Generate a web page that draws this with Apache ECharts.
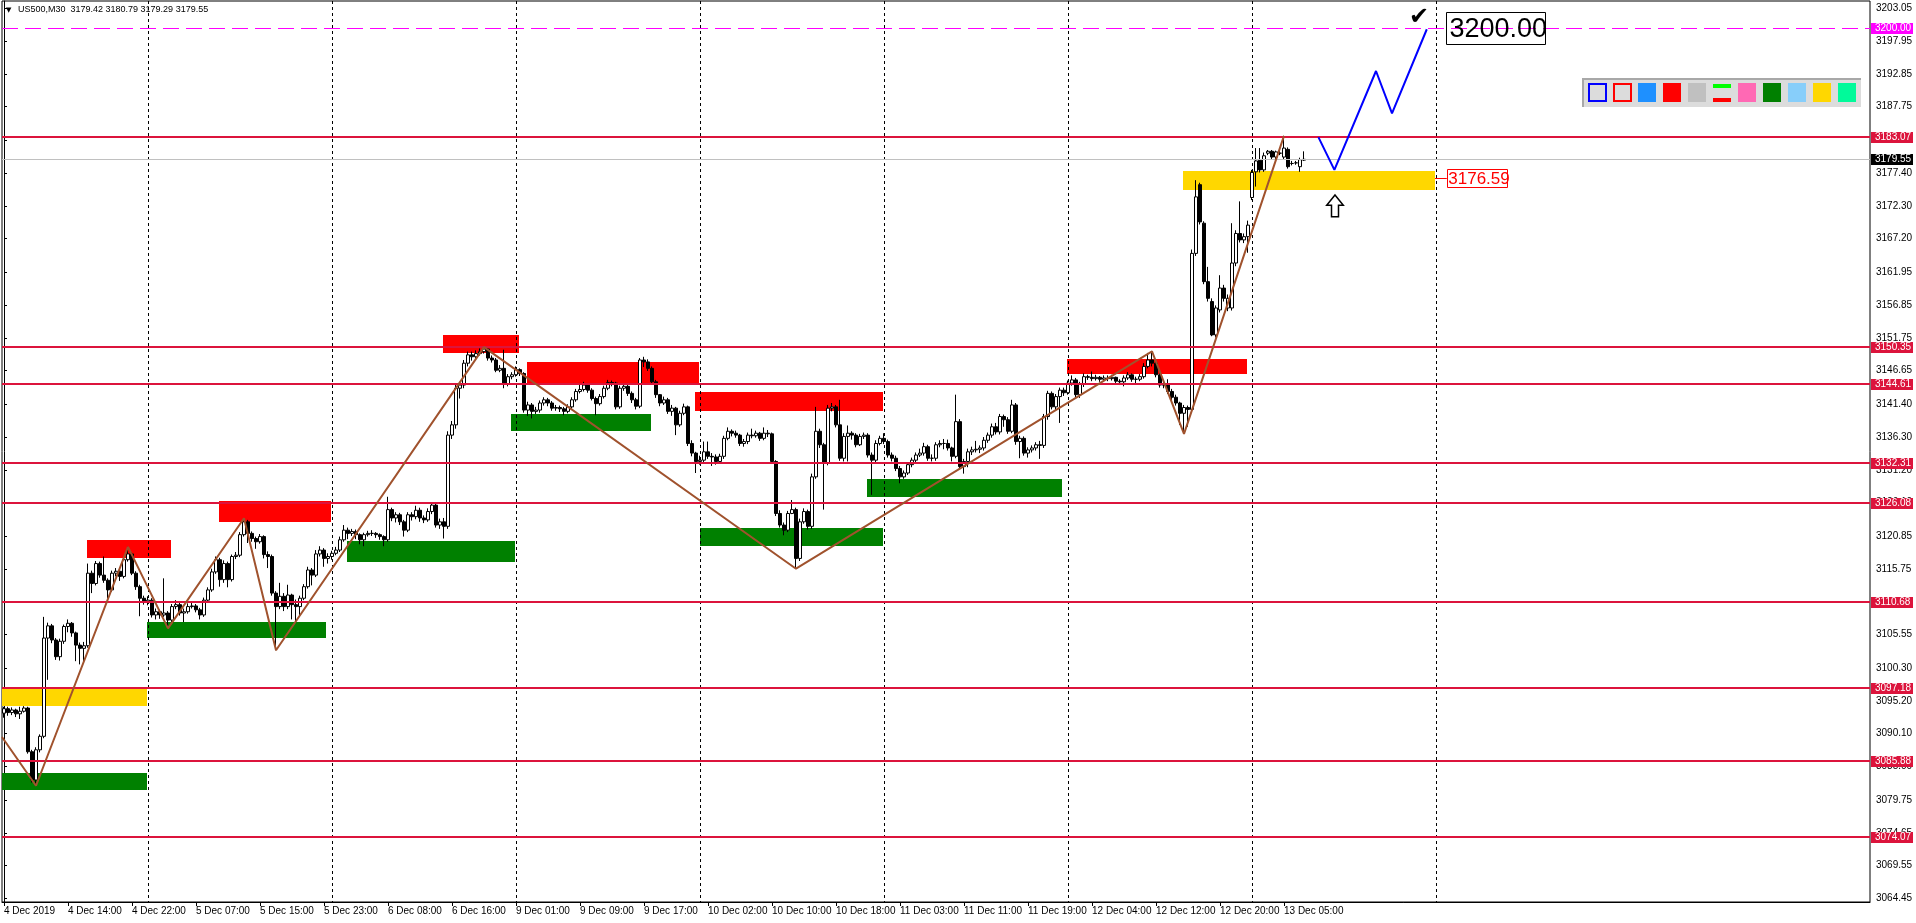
<!DOCTYPE html>
<html><head><meta charset="utf-8">
<script src="https://cdn.jsdelivr.net/npm/echarts@6/dist/echarts.min.js"></script>
<style>html,body{margin:0;padding:0;background:#fff;}#c{width:1916px;height:923px;}</style>
</head><body><div id="c"></div>
<script>
// ---------------- DATA ----------------
const symbol = 'US500,M30';
const totalSlots = 467;          // bar slots visible across the chart (incl. empty future)
const labelEvery = 16;           // one time label every 16 bars
const timeLabels = ['4 Dec 2019','4 Dec 14:00','4 Dec 22:00','5 Dec 07:00','5 Dec 15:00','5 Dec 23:00','6 Dec 08:00','6 Dec 16:00','9 Dec 01:00','9 Dec 09:00','9 Dec 17:00','10 Dec 02:00','10 Dec 10:00','10 Dec 18:00','11 Dec 03:00','11 Dec 11:00','11 Dec 19:00','12 Dec 04:00','12 Dec 12:00','12 Dec 20:00','13 Dec 05:00'];
const priceTicks = [3203.05,3197.95,3192.85,3187.75,3182.50,3177.40,3172.30,3167.20,3161.95,3156.85,3151.75,3146.65,3141.40,3136.30,3131.20,3126.10,3120.85,3115.75,3110.65,3105.55,3100.30,3095.20,3090.10,3085.00,3079.75,3074.65,3069.55,3064.45];
const priceMin = 3063.9, priceMax = 3204.2;

const opens = [
3093.3,3094.0,3093.4,3093.8,3093.2,3093.6,3094.1,3087.3,3082.9,3087.6,
3089.7,3105.0,3106.9,3104.7,3102.1,3104.5,3106.8,3107.3,3105.8,3103.9,
3103.4,3103.8,3115.1,3113.5,3116.6,3114.8,3114.0,3112.5,3115.1,3115.4,
3114.6,3117.2,3118.1,3115.1,3113.0,3111.2,3110.7,3110.9,3108.6,3109.1,
3108.6,3108.9,3107.8,3109.9,3110.2,3108.9,3109.1,3109.9,3110.0,3109.4,
3108.6,3110.9,3112.5,3115.3,3117.2,3114.1,3116.6,3114.1,3117.7,3117.9,
3121.1,3123.1,3121.3,3120.5,3120.0,3120.8,3118.0,3117.7,3112.0,3109.9,
3111.5,3109.9,3111.7,3110.2,3109.9,3111.2,3113.0,3115.6,3114.8,3118.1,
3118.7,3117.4,3117.7,3118.2,3118.7,3120.3,3121.8,3121.3,3121.6,3121.1,
3120.3,3121.1,3121.3,3121.3,3121.1,3120.8,3120.3,3125.0,3123.7,3124.2,
3123.1,3121.8,3124.2,3123.9,3124.9,3123.7,3123.4,3124.7,3125.7,3122.6,
3123.1,3122.4,3136.6,3138.2,3143.9,3144.4,3147.8,3149.1,3148.8,3149.3,
3149.6,3150.0,3148.6,3148.3,3146.7,3147.0,3144.5,3145.7,3146.0,3146.8,
3146.2,3140.5,3141.3,3140.3,3140.5,3141.6,3142.1,3141.6,3140.8,3140.9,
3140.7,3140.3,3141.0,3142.1,3143.4,3143.7,3144.4,3143.6,3142.3,3141.5,
3142.6,3143.9,3144.8,3144.7,3141.0,3143.9,3144.2,3143.1,3142.1,3141.1,
3148.3,3148.0,3147.0,3144.9,3142.9,3141.6,3142.1,3140.3,3140.8,3138.2,
3140.0,3141.0,3135.3,3133.8,3132.5,3132.7,3134.0,3133.3,3133.2,3132.5,
3133.3,3136.1,3137.2,3136.9,3136.6,3135.3,3135.6,3136.6,3136.5,3136.9,
3136.1,3136.9,3136.8,3132.5,3124.4,3122.6,3121.8,3124.4,3125.0,3117.4,
3123.1,3124.7,3122.4,3130.1,3137.2,3135.1,3132.2,3140.8,3141.0,3138.2,
3133.0,3136.4,3136.9,3136.6,3135.1,3136.4,3136.6,3133.5,3132.7,3135.3,
3136.1,3135.6,3133.5,3133.0,3131.4,3130.1,3130.7,3132.0,3132.7,3133.5,
3133.8,3134.8,3133.0,3133.0,3135.1,3135.3,3135.3,3134.6,3133.3,3138.7,
3131.7,3132.5,3134.0,3134.3,3134.4,3134.6,3135.8,3136.6,3137.9,3137.1,
3139.5,3139.0,3137.2,3141.3,3135.6,3136.1,3133.8,3134.3,3134.6,3135.1,
3135.0,3139.5,3143.1,3141.0,3142.6,3143.6,3143.2,3144.7,3145.2,3142.9,
3144.5,3145.7,3145.6,3145.4,3145.6,3145.3,3145.5,3145.4,3145.6,3145.0,
3144.9,3145.5,3146.0,3145.3,3145.3,3145.7,3147.3,3148.3,3147.8,3146.0,
3144.4,3144.4,3143.4,3142.5,3141.6,3140.0,3140.9,3140.6,3164.9,3175.6,
3169.6,3160.5,3157.4,3152.2,3156.1,3159.5,3156.4,3156.4,3163.4,3168.0,
3167.0,3167.5,3173.6,3177.6,3179.4,3177.9,3180.5,3180.8,3179.9,3180.5,
3179.9,3181.1,3178.9,3179.0,3178.4,3179.42];
const highs = [
3094.3,3094.3,3094.2,3094.0,3094.3,3094.4,3094.3,3087.6,3088.0,3090.0,
3108.3,3107.4,3107.2,3105.0,3104.9,3107.1,3107.9,3107.5,3106.0,3104.3,
3104.4,3116.6,3115.5,3117.0,3116.9,3117.7,3114.3,3115.5,3115.9,3115.7,
3117.6,3119.2,3118.4,3115.4,3113.3,3111.6,3111.5,3111.2,3109.6,3109.4,
3114.3,3109.2,3110.3,3110.9,3110.5,3109.6,3110.4,3110.5,3110.3,3109.7,
3111.3,3112.9,3115.8,3117.7,3117.5,3117.1,3116.9,3118.0,3118.4,3121.5,
3123.65,3123.4,3121.6,3120.8,3121.2,3121.0,3118.5,3118.0,3112.3,3113.6,
3112.0,3113.3,3111.9,3111.0,3111.6,3113.4,3116.1,3115.9,3118.7,3119.3,
3119.0,3118.2,3118.6,3119.2,3120.8,3122.6,3122.2,3122.0,3121.9,3121.3,
3121.4,3121.7,3121.8,3121.5,3121.3,3121.0,3127.0,3125.3,3124.6,3124.5,
3123.4,3124.6,3124.6,3125.6,3125.3,3124.1,3125.2,3126.1,3126.0,3123.6,
3123.7,3137.2,3138.8,3144.4,3144.9,3148.3,3149.6,3149.6,3149.8,3150.1,
3150.3,3150.2,3149.0,3148.6,3147.5,3149.9,3146.1,3146.4,3147.3,3147.0,
3146.4,3141.8,3141.6,3141.0,3142.0,3142.5,3142.4,3141.9,3141.3,3141.2,
3141.0,3141.4,3142.5,3143.8,3144.5,3144.9,3144.7,3143.9,3142.6,3143.0,
3144.3,3145.2,3145.1,3144.9,3144.3,3144.7,3144.4,3143.4,3142.4,3148.6,
3148.8,3148.4,3147.3,3145.2,3143.0,3142.6,3142.4,3141.3,3141.0,3140.4,
3141.5,3141.2,3135.8,3134.0,3133.4,3135.6,3135.6,3133.8,3133.6,3133.7,
3136.5,3137.8,3137.5,3137.3,3136.8,3136.0,3137.0,3137.6,3137.3,3137.1,
3137.8,3137.4,3137.0,3132.7,3124.9,3123.0,3124.8,3126.5,3125.3,3123.6,
3125.2,3125.0,3130.6,3141.0,3137.6,3135.4,3141.3,3141.6,3141.3,3142.1,
3136.9,3138.1,3137.2,3136.9,3136.8,3137.0,3136.9,3133.9,3135.8,3136.5,
3136.9,3135.9,3133.9,3133.4,3131.8,3131.1,3132.4,3133.1,3133.9,3134.5,
3135.4,3135.1,3133.6,3135.5,3135.8,3136.0,3135.9,3134.8,3142.9,3139.1,
3132.9,3134.5,3134.8,3135.7,3135.0,3136.3,3137.0,3138.4,3138.5,3139.9,
3139.8,3139.4,3142.1,3141.6,3136.5,3136.4,3134.7,3135.0,3135.5,3135.7,
3139.9,3143.5,3143.4,3143.0,3144.0,3144.0,3145.1,3145.9,3145.5,3144.9,
3146.2,3146.0,3146.5,3146.0,3145.8,3145.9,3145.9,3146.0,3145.7,3145.3,
3145.9,3146.4,3146.2,3145.7,3146.1,3147.8,3149.4,3149.65,3148.0,3146.2,
3144.9,3145.3,3143.8,3142.9,3141.8,3141.3,3141.2,3165.5,3176.3,3175.9,
3169.9,3162.8,3157.9,3156.8,3161.5,3160.0,3158.5,3169.6,3168.5,3173.0,
3168.0,3170.0,3177.9,3181.3,3181.3,3180.6,3181.0,3181.0,3180.9,3181.0,
3183.2,3181.4,3179.3,3179.3,3179.8,3180.79];
const lows = [
3092.6,3092.9,3093.0,3092.7,3092.4,3093.4,3087.0,3082.5,3082.0,3087.2,
3089.4,3098.5,3104.2,3101.6,3101.5,3104.1,3105.9,3105.2,3101.4,3100.9,
3101.1,3103.5,3112.0,3113.2,3114.4,3113.6,3111.2,3112.2,3114.6,3113.9,
3114.3,3116.9,3114.8,3112.5,3108.4,3110.2,3110.1,3108.2,3107.9,3108.0,
3108.3,3106.5,3107.5,3109.5,3108.5,3107.5,3108.8,3109.6,3109.0,3107.9,
3108.3,3110.6,3112.2,3115.0,3113.0,3113.6,3112.9,3113.8,3117.3,3117.6,
3120.8,3119.8,3120.0,3118.9,3119.7,3117.4,3115.9,3111.6,3103.1,3109.5,
3109.2,3109.5,3107.9,3107.4,3108.5,3110.9,3112.7,3113.2,3114.5,3117.7,
3116.1,3116.6,3117.2,3117.9,3118.4,3120.0,3120.4,3120.9,3120.4,3119.6,
3119.3,3120.8,3120.9,3120.6,3120.3,3119.3,3120.0,3123.2,3123.0,3122.6,
3120.8,3121.5,3123.3,3123.5,3123.1,3122.9,3123.1,3124.3,3122.2,3122.0,
3120.5,3122.0,3136.0,3137.6,3142.3,3143.9,3147.3,3148.2,3148.4,3149.0,
3149.3,3148.2,3147.9,3146.4,3146.4,3143.9,3144.2,3145.3,3145.7,3145.8,
3140.1,3139.6,3139.2,3139.9,3140.1,3141.2,3141.1,3140.4,3140.4,3140.2,
3139.7,3140.0,3140.7,3141.8,3143.1,3143.4,3143.2,3142.0,3139.7,3141.2,
3142.3,3143.6,3144.2,3140.6,3140.7,3143.5,3142.7,3141.6,3140.6,3140.8,
3147.2,3146.6,3144.5,3142.4,3141.1,3141.3,3139.9,3139.6,3136.6,3137.9,
3139.7,3134.9,3133.3,3130.7,3132.0,3132.2,3132.9,3131.8,3132.0,3132.2,
3132.9,3135.8,3136.4,3136.2,3134.9,3134.8,3135.2,3136.1,3136.2,3135.7,
3135.8,3136.3,3132.1,3124.0,3122.2,3121.0,3121.5,3124.3,3115.8,3117.0,
3122.8,3121.9,3122.0,3129.8,3134.6,3125.0,3131.9,3140.3,3137.8,3132.6,
3132.5,3132.5,3135.9,3134.7,3134.9,3136.0,3133.1,3127.3,3132.4,3135.0,
3135.2,3133.1,3132.5,3131.0,3129.1,3129.8,3130.4,3131.6,3132.4,3133.2,
3133.4,3132.6,3132.5,3132.6,3134.7,3134.4,3134.2,3132.5,3133.0,3131.3,
3130.6,3131.6,3133.5,3133.9,3133.8,3134.2,3135.4,3136.2,3136.7,3136.7,
3137.9,3136.8,3136.9,3135.1,3133.0,3133.4,3133.1,3133.9,3134.2,3132.9,
3134.6,3139.0,3140.6,3140.5,3138.5,3142.7,3142.9,3144.3,3142.5,3142.4,
3144.1,3145.2,3145.0,3145.1,3144.9,3145.0,3145.0,3145.1,3144.5,3144.4,
3144.2,3145.2,3144.9,3144.6,3145.0,3145.4,3147.0,3147.3,3145.6,3144.0,
3143.9,3143.0,3142.0,3141.2,3138.2,3136.8,3137.9,3140.2,3164.5,3169.4,
3160.1,3157.4,3152.0,3151.8,3155.7,3157.4,3155.9,3156.0,3162.9,3166.6,
3166.5,3165.0,3173.2,3175.3,3177.5,3177.6,3180.2,3179.6,3179.5,3180.2,
3179.6,3178.1,3178.6,3178.7,3177.6,3179.29];
const closes = [
3094.0,3093.4,3093.8,3093.2,3093.6,3094.1,3087.3,3082.9,3087.6,3089.7,
3105.0,3106.9,3104.7,3102.1,3104.5,3106.8,3107.3,3105.8,3103.9,3103.4,
3103.8,3115.1,3113.5,3116.6,3114.8,3114.0,3112.5,3115.1,3115.4,3114.6,
3117.2,3118.1,3115.1,3113.0,3111.2,3110.7,3110.9,3108.6,3109.1,3108.6,
3108.9,3107.8,3109.9,3110.2,3108.9,3109.1,3109.9,3110.0,3109.4,3108.6,
3110.9,3112.5,3115.3,3117.2,3114.1,3116.6,3114.1,3117.7,3117.9,3121.1,
3123.1,3121.3,3120.5,3120.0,3120.8,3118.0,3117.7,3112.0,3109.9,3111.5,
3109.9,3111.7,3110.2,3109.9,3111.2,3113.0,3115.6,3114.8,3118.1,3118.7,
3117.4,3117.7,3118.2,3118.7,3120.3,3121.8,3121.3,3121.6,3121.1,3120.3,
3121.1,3121.3,3121.3,3121.1,3120.8,3120.3,3125.0,3123.7,3124.2,3123.1,
3121.8,3124.2,3123.9,3124.9,3123.7,3123.4,3124.7,3125.7,3122.6,3123.1,
3122.4,3136.6,3138.2,3143.9,3144.4,3147.8,3149.1,3148.8,3149.3,3149.6,
3150.0,3148.6,3148.3,3146.7,3147.0,3144.5,3145.7,3146.0,3146.8,3146.2,
3140.5,3141.3,3140.3,3140.5,3141.6,3142.1,3141.6,3140.8,3140.9,3140.7,
3140.3,3141.0,3142.1,3143.4,3143.7,3144.4,3143.6,3142.3,3141.5,3142.6,
3143.9,3144.8,3144.7,3141.0,3143.9,3144.2,3143.1,3142.1,3141.1,3148.3,
3148.0,3147.0,3144.9,3142.9,3141.6,3142.1,3140.3,3140.8,3138.2,3140.0,
3141.0,3135.3,3133.8,3132.5,3132.7,3134.0,3133.3,3133.2,3132.5,3133.3,
3136.1,3137.2,3136.9,3136.6,3135.3,3135.6,3136.6,3136.5,3136.9,3136.1,
3136.9,3136.8,3132.5,3124.4,3122.6,3121.8,3124.4,3125.0,3117.4,3123.1,
3124.7,3122.4,3130.1,3137.2,3135.1,3132.2,3140.8,3141.0,3138.2,3133.0,
3136.4,3136.9,3136.6,3135.1,3136.4,3136.6,3133.5,3132.7,3135.3,3136.1,
3135.6,3133.5,3133.0,3131.4,3130.1,3130.7,3132.0,3132.7,3133.5,3133.8,
3134.8,3133.0,3133.0,3135.1,3135.3,3135.3,3134.6,3133.3,3138.7,3131.7,
3132.5,3134.0,3134.3,3134.4,3134.6,3135.8,3136.6,3137.9,3137.1,3139.5,
3139.0,3137.2,3141.3,3135.6,3136.1,3133.8,3134.3,3134.6,3135.1,3135.0,
3139.5,3143.1,3141.0,3142.6,3143.6,3143.2,3144.7,3145.2,3142.9,3144.5,
3145.7,3145.6,3145.4,3145.6,3145.3,3145.5,3145.4,3145.6,3145.0,3144.9,
3145.5,3146.0,3145.3,3145.3,3145.7,3147.3,3148.3,3147.8,3146.0,3144.4,
3144.4,3143.4,3142.5,3141.6,3140.0,3140.9,3140.6,3164.9,3173.7,3169.8,
3160.5,3157.9,3152.2,3156.4,3159.5,3157.9,3157.9,3163.4,3168.0,3167.0,
3167.5,3169.3,3177.5,3179.3,3177.9,3180.1,3180.8,3179.9,3180.7,3180.5,
3181.3,3178.4,3178.9,3179.0,3179.5,3179.55];

// Horizontal levels
const supportResistance = [3183.07,3150.35,3144.61,3132.31,3126.08,3110.68,3097.18,3085.88,3074.07];
const targetLevel = [3200.00];
// Day separators (bar position)
const daySeparators = [35.9,81.9,127.9,173.9,219.9,265.9,311.9,357.9];
// Zones: [fromBar, toBar, lowPrice, highPrice]
const redZones = [[20.75,41.75,3117.5,3120.3],[53.8,81.75,3123.1,3126.35],[109.7,128.8,3149.4,3152.2],[130.75,173.75,3144.7,3148.0],[172.75,219.75,3140.4,3143.3],[265.8,310.7,3146.1,3148.45]];
const greenZones = [[-0.5,35.75,3081.4,3083.95],[35.8,80.6,3105.0,3107.5],[85.75,127.75,3116.9,3120.1],[126.75,161.75,3137.3,3139.9],[173.9,219.8,3119.4,3122.1],[215.75,264.6,3126.9,3129.8]];
const yellowZones = [[-0.5,35.75,3094.4,3097.2],[294.8,357.75,3174.75,3177.7]];
// ZigZag: entry point at left edge, then pivot bars (type: 'L' low / 'H' high)
const zigzagEntry = [-0.5, 3089.6];
const zigzagPivots = [[8,'L'],[31,'H'],[41,'L'],[60,'H'],[68,'L'],[120,'H'],[198,'L'],[287,'H'],[295,'L'],[320,'H']];
// Projected path (bar, price)
const projection = [[328.6,3183.0],[332.6,3177.9],[343,3193.3],[347,3186.7],[355.7,3199.8]];
// Annotations
const entryLabel = {bar: 360.7, fromBar: 357.75, price: 3176.59};
const targetLabel = {bar: 360.6, price: 3200.00};
const checkMark = {bar: 353.75, price: 3201.6};
const arrowUp = {bar: 332.75, price: 3172.3};
const paletteColors = ['#0000FF','#FF0000','#1E90FF','#FF0000','#C0C0C0','#00FF00|#FF0000','#FF69B4','#008000','#87CEFA','#FFD700','#00FA9A'];

// ---------------- CHART ----------------
const FONT = '"Liberation Sans", Arial, sans-serif';
const chart = echarts.init(document.getElementById('c'), null, {renderer: 'canvas'});
const cats = Array.from({length: totalSlots}, (_, i) => String(i));
const candleData = closes.map((c, i) => [opens[i], c, lows[i], highs[i]]);
const lastIdx = closes.length - 1;
const bidPrice = closes[lastIdx];
const zigzagData = [zigzagEntry].concat(zigzagPivots.map(p => [p[0], p[1] === 'H' ? highs[p[0]] : lows[p[0]]]));
const isLabelSlot = (i) => i % labelEvery === 0 && i / labelEvery < timeLabels.length;

function zoneSeries(list, color) {
  return {
    type: 'custom', xAxisIndex: 1, yAxisIndex: 0, z: 1, silent: true, clip: true,
    encode: {x: [0, 1], y: [2, 3]}, data: list,
    renderItem(params, api) {
      const p0 = api.coord([api.value(0), api.value(3)]);
      const p1 = api.coord([api.value(1), api.value(2)]);
      return {type: 'rect', shape: {x: Math.round(p0[0]), y: Math.round(p0[1]), width: Math.round(p1[0]) - Math.round(p0[0]), height: Math.round(p1[1]) - Math.round(p0[1])}, style: {fill: color}};
    }
  };
}
function levelSeries(list, o) {
  return {
    type: 'custom', xAxisIndex: 1, yAxisIndex: 0, z: o.z, silent: true, clip: false,
    encode: {x: 0, y: 1}, data: list.map(p => [0, p]),
    renderItem(params, api) {
      const cs = params.coordSys;
      const p = api.value(1);
      const yr = Math.round(api.coord([0, p])[1]);
      const y = o.lw % 2 ? yr + 0.5 : yr;
      const right = cs.x + cs.width;
      return {type: 'group', children: [
        {type: 'line', shape: {x1: cs.x, y1: y, x2: right, y2: y}, style: {stroke: o.color, lineWidth: o.lw, lineDash: o.dash || 'solid'}},
        {type: 'rect', shape: {x: right + 1, y: yr - 5, width: 42, height: 11}, style: {fill: o.tagBg}},
        {type: 'text', style: {x: right + 5, y: yr + 0.5, text: p.toFixed(2), fill: o.tagFg, font: '10px ' + FONT, verticalAlign: 'middle', align: 'left'}}
      ]};
    }
  };
}
function pointSeries(pt, z, build) {
  return {
    type: 'custom', xAxisIndex: 1, yAxisIndex: 0, z: z, silent: true, clip: false,
    encode: {x: 0, y: 1}, data: [[pt.bar, pt.price]],
    renderItem(params, api) { return build(api.coord([api.value(0), api.value(1)]), api); }
  };
}

const paletteChildren = [
  {type: 'rect', shape: {x: 0, y: 0, width: 279, height: 29}, style: {fill: '#DCDCDC'}},
  {type: 'rect', shape: {x: 0, y: 0, width: 279, height: 2}, style: {fill: '#A8A8A8'}},
  {type: 'rect', shape: {x: 0, y: 0, width: 2, height: 29}, style: {fill: '#A8A8A8'}}
];
paletteColors.forEach((c, k) => {
  const x = 6 + 25 * k, y = 5;
  if (k < 2) paletteChildren.push({type: 'rect', shape: {x: x + 1, y: y + 1, width: 17, height: 17}, style: {fill: '#DCDCDC', stroke: c, lineWidth: 2}});
  else if (c.indexOf('|') > 0) {
    const cc = c.split('|');
    paletteChildren.push({type: 'rect', shape: {x: x, y: y + 1, width: 18, height: 4}, style: {fill: cc[0]}});
    paletteChildren.push({type: 'rect', shape: {x: x, y: y + 15, width: 18, height: 4}, style: {fill: cc[1]}});
  } else paletteChildren.push({type: 'rect', shape: {x: x, y: y, width: 18, height: 19}, style: {fill: c}});
});

const option = {
  animation: false,
  backgroundColor: '#fff',
  textStyle: {fontFamily: FONT},
  grid: {left: 2, right: 46, top: 1, bottom: 21, show: true, borderColor: '#000', borderWidth: 1, backgroundColor: 'transparent'},
  xAxis: [{
    type: 'category', data: cats, boundaryGap: true, position: 'bottom',
    axisLine: {show: true, lineStyle: {color: '#000', width: 1}},
    axisTick: {show: true, alignWithLabel: true, interval: isLabelSlot, length: 4, lineStyle: {color: '#000'}},
    axisLabel: {interval: isLabelSlot, formatter: (v, i) => timeLabels[i / labelEvery] || '', align: 'left', color: '#000', fontSize: 10, margin: 4, fontFamily: FONT},
    splitLine: {show: false}
  }, {
    type: 'value', min: -0.5, max: totalSlots - 0.5, show: false, splitLine: {show: false}
  }],
  yAxis: [{
    type: 'value', position: 'right', min: priceMin, max: priceMax, scale: true,
    axisLine: {show: true, lineStyle: {color: '#000', width: 1}},
    axisTick: {show: true, length: 3, customValues: priceTicks, lineStyle: {color: '#000'}},
    axisLabel: {customValues: priceTicks, formatter: v => v.toFixed(2), color: '#000', fontSize: 10, margin: 6, fontFamily: FONT},
    splitLine: {show: false}
  }],
  graphic: [
    {type: 'text', left: 6, top: 7, z: 100, style: {text: '▼', font: '7px "DejaVu Sans"', fill: '#000'}},
    {type: 'text', left: 18, top: 5, z: 100, style: {text: symbol + '  ' + [opens[lastIdx], highs[lastIdx], lows[lastIdx], closes[lastIdx]].map(v => v.toFixed(2)).join(' '), font: '9px ' + FONT, fill: '#000'}},
    {type: 'group', left: 1582, top: 78, z: 100, children: paletteChildren}
  ],
  series: [
    zoneSeries(redZones, '#FF0000'),
    zoneSeries(greenZones, '#008000'),
    zoneSeries(yellowZones, '#FFD700'),
    {
      type: 'custom', xAxisIndex: 1, yAxisIndex: 0, z: 2, silent: true, clip: false,
      encode: {x: 0, y: 1}, data: daySeparators.map(b => [b, priceMin]),
      renderItem(params, api) {
        const cs = params.coordSys;
        const x = Math.round(api.coord([api.value(0), priceMin])[0]) + 0.5;
        return {type: 'line', shape: {x1: x, y1: cs.y, x2: x, y2: cs.y + cs.height}, style: {stroke: '#000', lineWidth: 1, lineDash: [3, 3]}};
      }
    },
    {
      type: 'candlestick', xAxisIndex: 0, yAxisIndex: 0, z: 3, data: candleData, barWidth: 3, silent: true,
      itemStyle: {color: '#fff', color0: '#000', borderColor: '#000', borderColor0: '#000', borderWidth: 1}
    },
    levelSeries([bidPrice], {color: '#C0C0C0', lw: 1, tagBg: '#000', tagFg: '#fff', z: 4}),
    levelSeries(supportResistance, {color: '#DC143C', lw: 2, tagBg: '#DC143C', tagFg: '#fff', z: 4}),
    levelSeries(targetLevel, {color: '#FF00FF', lw: 1, dash: [16, 7], tagBg: '#FF00FF', tagFg: '#fff', z: 4}),
    {type: 'line', xAxisIndex: 1, yAxisIndex: 0, z: 5, data: zigzagData, symbol: 'none', silent: true, lineStyle: {color: '#A0522D', width: 2}},
    {type: 'line', xAxisIndex: 1, yAxisIndex: 0, z: 5, data: projection, symbol: 'none', silent: true, lineStyle: {color: '#0000FF', width: 2}},
    pointSeries(entryLabel, 6, (p, api) => {
      const from = api.coord([entryLabel.fromBar, entryLabel.price]);
      return {type: 'group', children: [
        {type: 'line', shape: {x1: from[0], y1: Math.round(p[1]) + 0.5, x2: p[0], y2: Math.round(p[1]) + 0.5}, style: {stroke: '#FF0000', lineWidth: 1}},
        {type: 'rect', shape: {x: Math.round(p[0]) + 0.5, y: Math.round(p[1]) - 8.5, width: 60, height: 18}, style: {fill: '#fff', stroke: '#FF0000', lineWidth: 1}},
        {type: 'text', style: {x: p[0] + 1.5, y: p[1] + 1, text: entryLabel.price.toFixed(2), fill: '#FF0000', font: '17px ' + FONT, verticalAlign: 'middle'}}
      ]};
    }),
    pointSeries(targetLabel, 6, (p) => ({type: 'group', children: [
      {type: 'rect', shape: {x: Math.round(p[0]) + 0.5, y: Math.round(p[1]) - 15.5, width: 99, height: 32}, style: {fill: 'none', stroke: '#000', lineWidth: 1}},
      {type: 'text', style: {x: p[0] + 3, y: p[1] + 1.5, text: targetLabel.price.toFixed(2), fill: '#000', font: '27px ' + FONT, verticalAlign: 'middle'}}
    ]})),
    pointSeries(checkMark, 6, (p) => ({type: 'text', style: {x: p[0], y: p[1], text: '✔', fill: '#000', font: '24px "DejaVu Sans"', align: 'center', verticalAlign: 'middle'}})),
    pointSeries(arrowUp, 6, (p) => ({type: 'polygon', shape: {points: [[0, -10.8], [8.3, -0.5], [3.5, -0.5], [3.5, 10.8], [-3.5, 10.8], [-3.5, -0.5], [-8.3, -0.5]].map(q => [p[0] + q[0], p[1] + q[1]])}, style: {fill: '#fff', stroke: '#000', lineWidth: 1.5}}))
  ]
};
chart.setOption(option);
</script>
</body></html>
